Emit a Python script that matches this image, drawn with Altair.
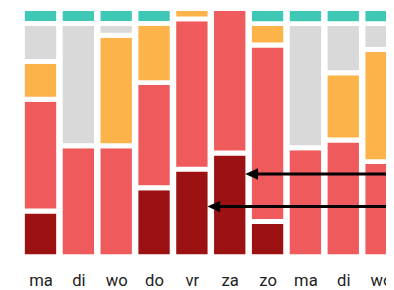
import altair as alt
import pandas as pd

# Day labels (Dutch) along the x axis
days = ["ma", "di", "wo", "do", "vr", "za", "zo", "ma", "di", "wo"]

# Stack categories, bottom to top
categories = ["donkerrood", "rood", "oranje", "grijs", "turkoois"]
colors = ["#9c1111", "#ef5a5c", "#fcb44a", "#d9d9d9", "#3ec8b5"]

# Percent share of each category per day
dark = [18.4, 0, 0, 27.8, 35.3, 41.8, 14.2, 0, 0, 0]
red = [45.0, 44.7, 44.7, 42.3, 60.5, 58.2, 71.1, 43.9, 47.0, 38.3]
orange = [15.3, 0, 44.5, 23.9, 4.2, 0, 8.6, 0, 27.1, 45.2]
gray = [15.3, 49.3, 4.8, 0, 0, 0, 0, 50.0, 19.8, 10.4]
teal = [6.0, 6.0, 6.0, 6.0, 0, 0, 6.1, 6.1, 6.1, 6.1]

# Arrows: the day bar they point at, and the height (percent) they point to
arrow_day = [5, 4]
arrow_y = [33.3, 20.2]

series = [dark, red, orange, gray, teal]
rows = []
for i, d in enumerate(days):
    for k, (cat, vals) in enumerate(zip(categories, series)):
        if vals[i] > 0:
            rows.append({"idx": i, "dag": d, "cat": cat, "order": k, "value": vals[i]})
df = pd.DataFrame(rows)

half_bar = 0.41
adf = pd.DataFrame({
    "tip": [d + half_bar for d in arrow_day],
    "start": [d + half_bar + 0.1 for d in arrow_day],
    "y": arrow_y,
})

x_scale = alt.Scale(domain=[-0.73, 9.0], nice=False, zero=False)
y_scale = alt.Scale(domain=[0, 99], nice=False, zero=True)

label_expr = "[" + ",".join("'%s'" % d for d in days) + "][datum.value]"

x_axis = alt.Axis(
    values=list(range(len(days))),
    labelExpr=label_expr,
    title=None,
    domain=False,
    ticks=False,
    tickSize=0,
    grid=False,
    labelFlush=False,
    labelOverlap=False,
    labelPadding=16,
    labelFontSize=17,
    labelFont="Roboto, sans-serif",
    labelColor="#222222",
)

bars = alt.Chart(df).mark_bar(width=37, stroke="white", strokeWidth=5).encode(
    x=alt.X("idx:Q", scale=x_scale, axis=x_axis),
    y=alt.Y("value:Q", stack="zero", scale=y_scale, axis=None),
    color=alt.Color("cat:N", scale=alt.Scale(domain=categories, range=colors), legend=None),
    order=alt.Order("order:Q"),
)

rules = alt.Chart(adf).mark_rule(color="black", strokeWidth=3).encode(
    x=alt.X("start:Q", scale=x_scale, axis=x_axis),
    x2=alt.value(420),
    y=alt.Y("y:Q", scale=y_scale, axis=None),
)

heads = alt.Chart(adf).mark_point(
    shape="M0,0L2,-0.9L2,0.9Z", filled=True, color="black", size=169, opacity=1, strokeWidth=0
).encode(
    x=alt.X("tip:Q", scale=x_scale, axis=x_axis),
    y=alt.Y("y:Q", scale=y_scale, axis=None),
)

chart = alt.layer(bars, rules, heads).properties(
    width=386,
    height=251,
    background="white",
    autosize=alt.AutoSizeParams(type="none"),
    padding={"left": 0, "top": 0, "right": 0, "bottom": 31},
).configure_view(strokeWidth=0)

chart.save("out.html", embed_options={"renderer": "svg", "actions": False})
